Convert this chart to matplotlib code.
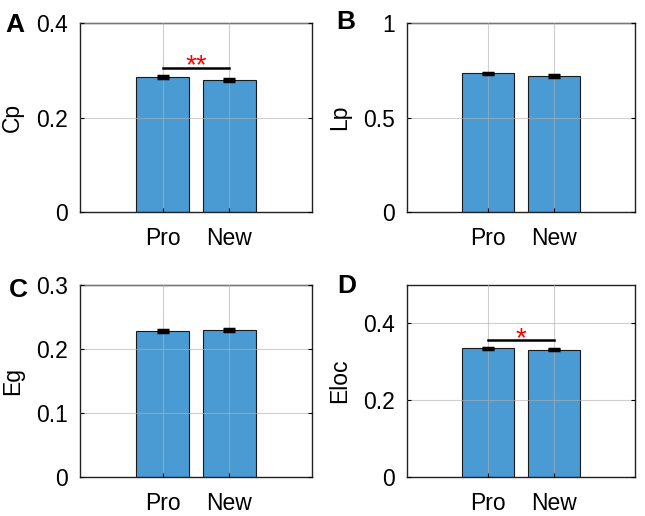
import numpy as np
import matplotlib.pyplot as plt

plt.rcParams['font.family'] = ['Liberation Sans', 'DejaVu Sans']

groups = ["Pro", "New"]
cp_mean = [0.285, 0.279]
cp_err = [0.002, 0.0015]
lp_mean = [0.734, 0.721]
lp_err = [0.004, 0.005]
eg_mean = [0.228, 0.230]
eg_err = [0.0015, 0.002]
eloc_mean = [0.335, 0.332]
eloc_err = [0.002, 0.002]

panels = [
    ("A", "Cp", cp_mean, cp_err, (0, 0.4), [0, 0.2, 0.4], "**", 0.305),
    ("B", "Lp", lp_mean, lp_err, (0, 1.0), [0, 0.5, 1], None, None),
    ("C", "Eg", eg_mean, eg_err, (0, 0.3), [0, 0.1, 0.2, 0.3], None, None),
    ("D", "Eloc", eloc_mean, eloc_err, (0, 0.5), [0, 0.2, 0.4], "*", 0.356),
]

# axes positions in pixels (left, top, right, bottom) of a 645x516 figure
W, H = 645, 516
boxes = [(80, 23, 312, 212), (407, 23, 635, 212),
         (80, 285, 312, 477), (407, 285, 635, 477)]
# panel letters: left x, baseline y (pixels)
label_pos = [(5, 32), (336, 29), (9, 297), (337, 293)]

bar_color = "#4A9BD3"
fig = plt.figure(figsize=(W / 100, H / 100), dpi=100)

for (lab, ylab, mean, err, ylim, yt, sig, sig_y), (l, t, r, b), (lx, ly) in zip(panels, boxes, label_pos):
    ax = fig.add_axes([l / W, 1 - b / H, (r - l) / W, (b - t) / H])
    x = np.arange(1, len(groups) + 1)
    ax.bar(x, mean, width=0.8, color=bar_color, edgecolor="#1a1a1a", linewidth=0.8, zorder=1)
    ax.errorbar(x, mean, yerr=err, fmt="none", ecolor="black", elinewidth=2.5,
                capsize=4.5, capthick=2.5, zorder=3)
    ax.set_xlim(-0.25, 3.25)
    ax.set_ylim(*ylim)
    ax.set_xticks(x)
    ax.set_xticklabels(groups)
    ax.set_yticks(yt)
    ax.set_yticklabels([("%g" % v) for v in yt])
    ax.grid(True, color="#b0b0b0", linewidth=0.8, alpha=0.6)
    ax.set_axisbelow(False)
    ax.tick_params(direction="in", length=3, labelsize=16.5, width=0.8,
                   right=True, top=False)
    ax.tick_params(axis="y", pad=8.5)
    ax.tick_params(axis="x", pad=11)
    ax.set_ylabel(ylab, fontsize=16.5, labelpad=9)
    for s in ax.spines.values():
        s.set_linewidth(1.0)
        s.set_color("#222222")
    if sig is not None:
        ax.plot([1, 2], [sig_y, sig_y], color="black", linewidth=1.8, zorder=4)
        ax.annotate(sig, xy=(1.5, sig_y), xytext=(0, -4), textcoords="offset points",
                    color="red", fontsize=20, ha="center", va="baseline", zorder=5)
    fig.text(lx / W, 1 - ly / H, lab, fontsize=19, fontweight="bold", ha="left", va="baseline")

fig.savefig("out.png", dpi=100)
